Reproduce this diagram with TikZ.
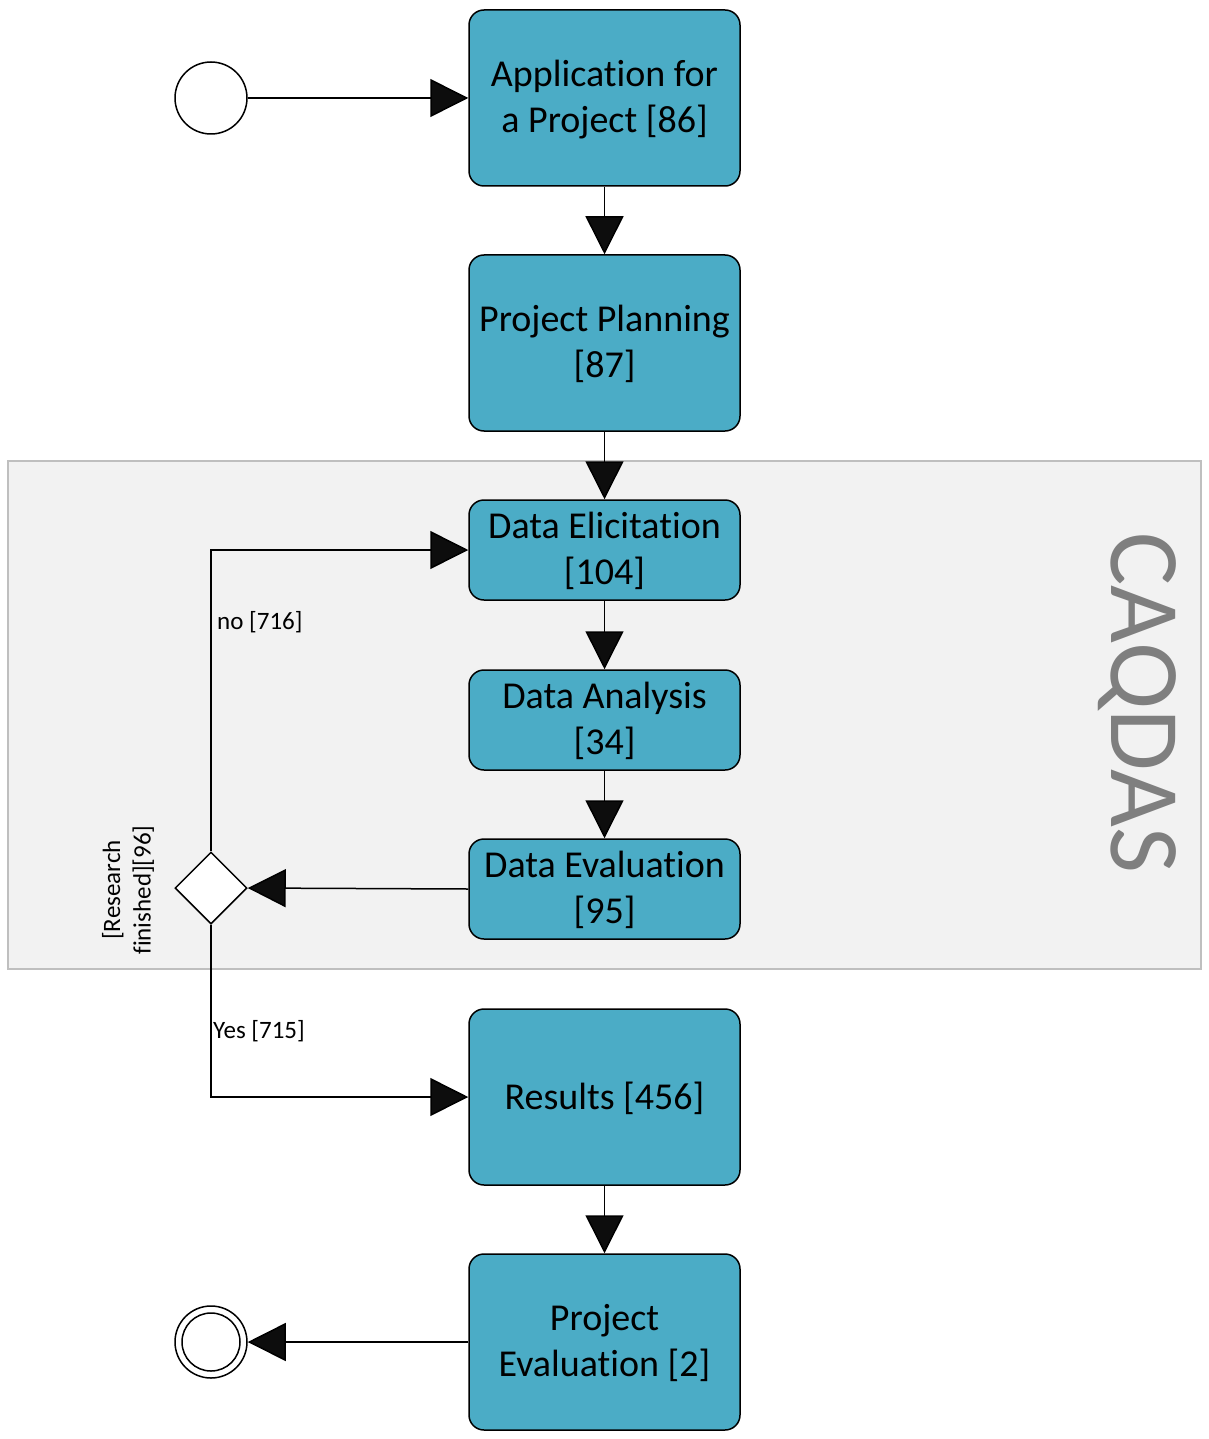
\documentclass[tikz,border=0pt]{standalone}
\usepackage{fontspec}
\setmainfont[Ligatures={NoCommon,NoRare}]{Carlito}
\usetikzlibrary{arrows.meta,shapes.geometric,calc}
\definecolor{taskfill}{HTML}{4BACC6}
\definecolor{lanefill}{HTML}{F2F2F2}
\definecolor{laneline}{HTML}{BFBFBF}
\definecolor{lanetext}{HTML}{7F7F7F}
\definecolor{tipcol}{HTML}{0D0D0D}
\begin{document}
\begin{tikzpicture}[x=1pt,y=-1pt,
  task/.style={draw=black,line width=1.5pt,fill=taskfill,rounded corners=15pt,
    minimum width=271pt,inner sep=0pt,align=center,
    font=\fontsize{38}{46}\selectfont,text depth=3pt},
  tall/.style={task,minimum height=176pt},
  short/.style={task,minimum height=100pt},
  event/.style={circle,draw=black,line width=1.5pt,fill=white,minimum size=72pt,inner sep=0pt},
  gateway/.style={diamond,draw=black,line width=1.5pt,fill=white,minimum size=72pt,inner sep=0pt},
  flow/.style={line width=1.5pt,-{Triangle[length=38pt,width=38pt,fill=tipcol]}},
  small/.style={font=\fontsize{25}{30.5}\selectfont,inner sep=0pt}]
\useasboundingbox (0,0) rectangle (1208,1439);

% swimlane background
\draw[fill=lanefill,draw=laneline,line width=1.5pt] (8,461) rectangle (1201,969);
\node[rotate=-90,text=lanetext,font=\fontsize{100}{120}\selectfont,inner sep=0pt] (lane) at (1137,703) {CAQDAS};

% tasks
\node[tall]  (app)  at (604.5,98)   {Application for\\a Project [86]};
\node[tall]  (plan) at (604.5,343)  {Project Planning\\{[87]}};
\node[short] (elic) at (604.5,550)  {Data Elicitation\\{[104]}};
\node[short] (ana)  at (604.5,720)  {Data Analysis\\{[34]}};
\node[short] (eval) at (604.5,889)  {Data Evaluation\\{[95]}};
\node[tall]  (res)  at (604.5,1097) {Results [456]};
\node[tall]  (peval) at (604.5,1342) {Project\\Evaluation [2]};

% events and gateway
\node[event] (start) at (211,98) {};
\node[event] (end) at (211,1342) {};
\draw[line width=1.5pt] (end.center) circle[radius=29pt];
\node[gateway] (gw) at (211,888) {};
\node[small,rotate=90,align=center] (gwlabel) at (128,890) {[Research\\finished][96]};

% sequence flows
\draw[flow] (start) -- (app);
\draw[flow] (app) -- (plan);
\draw[flow] (plan) -- (elic);
\draw[flow] (elic) -- (ana);
\draw[flow] (ana) -- (eval);
\draw[flow] (eval.west) -- (gw.east);
\draw[flow] (gw.north) |- (elic.west);
\draw[flow] (gw.south) |- (res.west);
\draw[flow] (res) -- (peval);
\draw[flow] (peval.west) -- (end.east);

% flow labels
\node[small,anchor=west] (nolab) at (217,622) {no [716]};
\node[small,anchor=west] (yeslab) at (213,1031) {Yes [715]};
\end{tikzpicture}
\end{document}
